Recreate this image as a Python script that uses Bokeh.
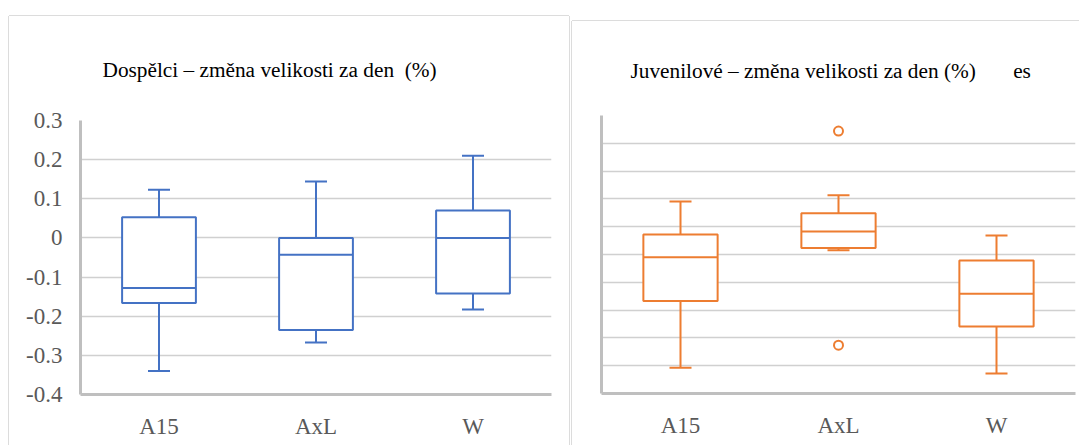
from bokeh.plotting import figure
from bokeh.models import (FactorRange, Range1d, FixedTicker, ColumnDataSource,
                          Whisker, TeeHead, Spacer, Title)
from bokeh.transform import dodge
from bokeh.layouts import row, column
from bokeh.embed import file_html
from bokeh.resources import INLINE

# ---------------- data ----------------
categories = ["A15", "AxL", "W"]

adult_low = [-0.34, -0.267, -0.183]
adult_q1 = [-0.166, -0.235, -0.142]
adult_median = [-0.128, -0.043, 0.0]
adult_q3 = [0.053, 0.0, 0.07]
adult_high = [0.123, 0.144, 0.21]
adult_ticks = [-0.4, -0.3, -0.2, -0.1, 0, 0.1, 0.2, 0.3]
adult_tick_labels = ["-0.4", "-0.3", "-0.2", "-0.1", "0", "0.1", "0.2", "0.3"]

juv_low = [-0.407, 0.015, -0.428]
juv_q1 = [-0.167, 0.023, -0.259]
juv_median = [-0.010, 0.083, -0.141]
juv_q3 = [0.072, 0.148, -0.022]
juv_high = [0.191, 0.213, 0.068]
juv_outlier_cat = ["AxL", "AxL"]
juv_outlier_val = [0.444, -0.326]
juv_grid = [-0.5, -0.4, -0.3, -0.2, -0.1, 0, 0.1, 0.2, 0.3, 0.4, 0.5]

title_adult = "Dospělci – změna velikosti za den \u00a0(%)"
title_juv = "Juvenilové – změna velikosti za den (%)" + "\u00a0" * 7 + "es"

BLUE = "#4472C4"
ORANGE = "#ED7D31"
GRID = "#D0D0D0"
AXIS = "#BFBFBF"
LABEL = "#595959"
FONT = "Times New Roman"
BORDER = "#DCDCDC"


def base_fig(width, height, y0, y1, mbl, mbr, mbt, mbb, title, shadow):
    p = figure(width=width, height=height, x_range=FactorRange(*categories),
               y_range=Range1d(y0, y1), output_backend="svg",
               toolbar_location=None, tools="",
               min_border_left=mbl, min_border_right=mbr,
               min_border_top=mbt, min_border_bottom=mbb,
               title=Title(text=title, text_font=FONT, text_font_size="21.3px",
                           text_font_style="normal", text_color="black",
                           align="left"))
    p.outline_line_color = None
    p.background_fill_color = "white"
    p.border_fill_color = "white"
    p.styles = {"box-shadow": shadow}
    p.xgrid.grid_line_color = None
    p.ygrid.grid_line_color = GRID
    p.ygrid.grid_line_width = 1.6
    for ax in (p.xaxis[0], p.yaxis[0]):
        ax.axis_line_color = AXIS
        ax.axis_line_width = 3
        ax.major_tick_line_color = None
        ax.minor_tick_line_color = None
        ax.major_tick_out = 0
        ax.major_tick_in = 0
        ax.major_label_text_font = FONT
        ax.major_label_text_font_size = "23px"
        ax.major_label_text_color = LABEL
    p.xaxis.major_label_standoff = 19
    p.yaxis.major_label_standoff = 18
    return p


def draw_boxes(p, low, q1, med, q3, high, color):
    src = ColumnDataSource(dict(cat=categories, low=low, q1=q1, med=med, q3=q3, high=high))
    p.add_layout(Whisker(source=src, base="cat", lower="q3", upper="high",
                         upper_head=TeeHead(size=22, line_color=color, line_width=2),
                         lower_head=None, line_color=color, line_width=2))
    p.add_layout(Whisker(source=src, base="cat", lower="low", upper="q1",
                         lower_head=TeeHead(size=22, line_color=color, line_width=2),
                         upper_head=None, line_color=color, line_width=2))
    p.vbar(x="cat", width=0.47, top="q3", bottom="q1", source=src,
           fill_color="white", line_color=color, line_width=2)
    p.segment(x0=dodge("cat", -0.235, range=p.x_range), y0="med",
              x1=dodge("cat", 0.235, range=p.x_range), y1="med", source=src,
              line_color=color, line_width=2)


# ---------------- left: adults ----------------
p1 = base_fig(560, 429, -0.4, 0.3, 71, 18, 104, 51, title_adult,
              f"-1px 0 0 0 {BORDER}, 1px 0 0 0 {BORDER}, 0 -1px 0 0 {BORDER}")
p1.title.offset = 22
p1.title.standoff = 78
p1.yaxis.ticker = FixedTicker(ticks=adult_ticks)
p1.yaxis.major_label_overrides = {t: s for t, s in zip(adult_ticks, adult_tick_labels)}
draw_boxes(p1, adult_low, adult_q1, adult_median, adult_q3, adult_high, BLUE)

# ---------------- right: juveniles ----------------
p2 = base_fig(507, 424, -0.5, 0.5, 29, 4, 94, 52, title_juv,
              f"-1px 0 0 0 {BORDER}, 0 -1px 0 0 {BORDER}")
p2.title.offset = 29
p2.title.standoff = 65
p2.yaxis.ticker = FixedTicker(ticks=[])
p2.ygrid.ticker = FixedTicker(ticks=juv_grid)
draw_boxes(p2, juv_low, juv_q1, juv_median, juv_q3, juv_high, ORANGE)
p2.scatter(x=juv_outlier_cat, y=juv_outlier_val, marker="circle", size=9,
           fill_color="white", line_color=ORANGE, line_width=2)

layout = row(Spacer(width=9, height=445),
             column(Spacer(width=560, height=16), p1),
             Spacer(width=3, height=445),
             column(Spacer(width=507, height=21), p2))
open("out.html", "w").write(file_html(layout, INLINE))
